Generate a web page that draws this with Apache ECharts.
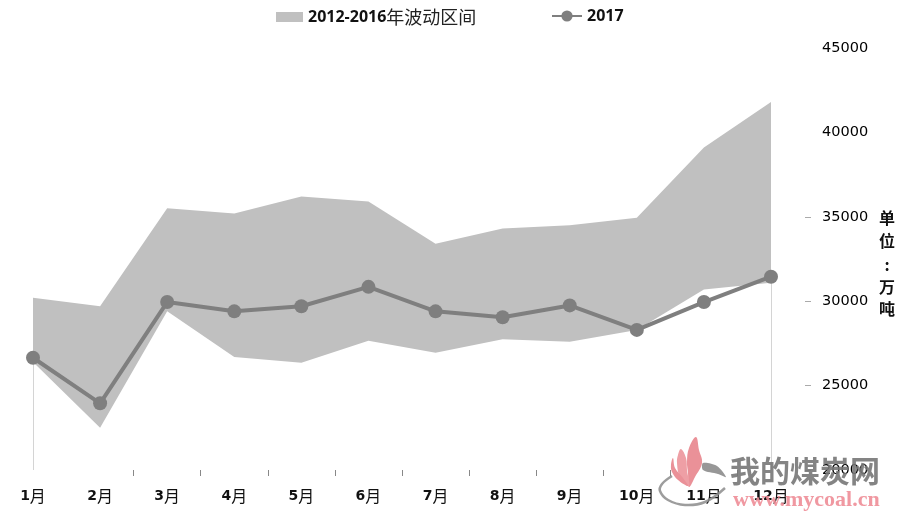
<!DOCTYPE html>
<html><head><meta charset="utf-8">
<style>html,body{margin:0;padding:0;background:#fff}#c{width:900px;height:514px}</style>
<script src="https://cdn.jsdelivr.net/npm/echarts@6/dist/echarts.min.js"></script>
</head><body><div id="c"></div>
<script>
const months = ['1月','2月','3月','4月','5月','6月','7月','8月','9月','10月','11月','12月'];
const bandLow = [26400,22500,29400,26700,26350,27650,26950,27750,27600,28300,30700,31100];
const bandHigh = [30200,29700,35500,35200,36200,35900,33400,34300,34500,34950,39100,41800];
const values2017 = [26650,23950,29950,29400,29700,30850,29400,29050,29750,28300,29950,31450];
const yTicks = [20000,25000,30000,35000];
const xTickPositions = [2.5,3.5,4.5,5.5,6.5,7.5,8.5,9.5,10.5,11.5];
const bandName = '2012-2016年波动区间';
const lineName = '2017';
const bandWidths = bandHigh.map((h,i)=>h-bandLow[i]);
const edge = i => [{xAxis:months[i],yAxis:20000},{xAxis:months[i],yAxis:bandLow[i]}];

const chart = echarts.init(document.getElementById('c'),null,{renderer:'canvas'});
const latin = 'DejaVu Sans, Noto Sans CJK SC';
const open = 'Open Sans';
chart.setOption({
  animation:false,
  backgroundColor:'#fff',
  grid:{left:33,right:129,top:48,bottom:44},
  legend:[
    {data:[{name:bandName,icon:'rect',itemStyle:{color:'#c0c0c0',opacity:1}}],left:271,top:3,itemWidth:27,itemHeight:10,
     selectedMode:false,
     formatter:()=>'{a|2012-2016}{b|年波动区间}',
     textStyle:{rich:{a:{fontFamily:open,fontWeight:'bold',fontSize:16,color:'#111'},b:{fontFamily:'Noto Sans CJK SC',fontSize:18,color:'#222'}}}},
    {data:[lineName],left:546,top:3,itemWidth:30,itemHeight:14,selectedMode:false,
     textStyle:{fontFamily:open,fontSize:16,fontWeight:'bold',color:'#111'}}
  ],
  xAxis:[
    {type:'category',data:months,boundaryGap:false,
     axisLine:{show:false},axisTick:{show:false},splitLine:{show:false},
     axisLabel:{interval:0,margin:18,align:'center',hideOverlap:false,
       formatter:v=>`{d|${v.slice(0,-1)}}{m|月}`,
       rich:{d:{fontFamily:latin,fontSize:14,fontWeight:'bold',color:'#111'},
             m:{fontFamily:'Noto Sans CJK SC',fontSize:16,color:'#111'}}}},
    {type:'value',min:1,max:12,position:'bottom',
     axisLine:{show:false},splitLine:{show:false},axisLabel:{show:false},
     axisTick:{show:true,customValues:xTickPositions,length:6,lineStyle:{color:'#888',width:1}}}
  ],
  yAxis:{type:'value',position:'right',offset:34,min:20000,max:45000,interval:5000,
    axisLine:{show:false},splitLine:{show:false},
    axisTick:{show:true,customValues:yTicks,length:6,lineStyle:{color:'#aaa',width:1}},
    axisLabel:{margin:17,fontFamily:latin,fontSize:14.5,color:'#000',padding:[6,0,0,0],formatter:v=>String(v)}},
  series:[
    {name:'下限',type:'line',stack:'band',data:bandLow,symbol:'none',silent:true,
     lineStyle:{opacity:0},areaStyle:{opacity:0},
     markLine:{silent:true,symbol:'none',label:{show:false},animation:false,
       lineStyle:{color:'#d4d4d4',width:1,type:'solid'},
       data:[edge(0),edge(11)]}},
    {name:bandName,type:'line',stack:'band',data:bandWidths,symbol:'none',
     lineStyle:{opacity:0},itemStyle:{color:'#c0c0c0'},areaStyle:{color:'#c0c0c0',opacity:1}},
    {name:lineName,type:'line',data:values2017,symbol:'circle',symbolSize:14,z:5,
     lineStyle:{color:'#7f7f7f',width:4},itemStyle:{color:'#7f7f7f'}}
  ],
  graphic:[
    ...['单','位',':','万','吨'].map((t,i)=>({type:'text',z:20,x:887,y:[218,241,265,287,309][i],
      style:{text:t,fontFamily:'Noto Sans CJK SC',fontWeight:'bold',fontSize:16,fill:'#111',align:'center',verticalAlign:'middle'}})),
    // watermark
    {type:'polyline',z:30,shape:{smooth:0.4,points:[[672,476],[662,484],[660,491],[668,500],[685,505],[705,502],[725,488]]},
     style:{stroke:'#8c8c8c',lineWidth:2.5,fill:null,opacity:.85}},
    {type:'polygon',z:30,shape:{smooth:0.3,points:[[703,463],[717,466],[726,477],[718,474],[703,470]]},
     style:{fill:'#8c8c8c',opacity:.9}},
    {type:'polygon',z:31,shape:{smooth:0.4,points:[[696,437],[699,450],[702,463],[695,477],[689,487],[688,473],[687,462],[689,448]]},
     style:{fill:'#ea9198'}},
    {type:'polygon',z:31,shape:{smooth:0.4,points:[[681,449],[686,458],[687,470],[689,486],[680,477],[677,463],[678,455]]},
     style:{fill:'#ee9fa5'}},
    {type:'polygon',z:31,shape:{smooth:0.4,points:[[673,458],[675,468],[683,478],[688,486],[678,480],[672,472],[671,465]]},
     style:{fill:'#ea9198'}},
    {type:'text',z:30,x:730,y:456,style:{text:'我的煤炭网',fontFamily:'Noto Sans CJK SC',fontWeight:'bold',fontSize:30,fill:'#777',opacity:.9}},
    {type:'text',z:30,x:733,y:489,style:{text:'www.mycoal.cn',fontFamily:'Liberation Serif',fontWeight:'bold',fontSize:22,fill:'#ee8d97',opacity:.9}}
  ]
});
</script></body></html>
